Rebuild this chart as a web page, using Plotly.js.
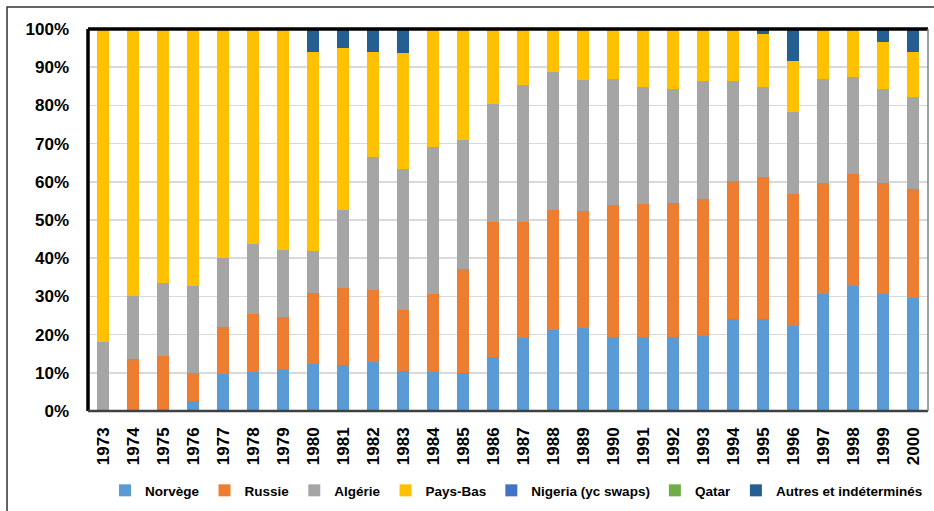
<!DOCTYPE html>
<html>
<head>
<meta charset="utf-8">
<script src="https://cdn.plot.ly/plotly-3.0.1.min.js"></script>
<style>html,body{margin:0;padding:0;background:#fff;}#chart{width:934px;height:511px;}</style>
</head>
<body>
<div id="chart"></div>
<script>
const years = ["1973","1974","1975","1976","1977","1978","1979","1980","1981","1982","1983","1984","1985","1986","1987","1988","1989","1990","1991","1992","1993","1994","1995","1996","1997","1998","1999","2000"];
const norvege = [0,0,0.5,2.6,9.6,10.2,10.9,12.4,12.1,12.7,10.5,10.2,10,14.2,19.1,21.2,21.6,19.4,19.4,19.4,19.7,24,24,22.3,30.7,32.7,30.5,29.6];
const russie = [0,13.7,13.8,7.4,12.3,15.1,13.8,18.4,20,19,16,20.5,27.2,35.3,30.4,31.4,30.7,34.4,34.7,35,35.9,36.2,37.2,34.6,29,29.4,29.2,28.5];
const algerie = [18,16.5,19.3,22.7,18.1,18.4,17.5,11.1,20.5,34.7,36.8,38.4,33.8,30.9,35.9,36.2,34.3,33.1,30.7,29.8,30.7,26.1,23.6,21.5,27.2,25.4,24.7,24.2];
const paysBas = [82,69.8,66.4,67.3,60,56.3,57.8,52.1,42.3,27.6,30.4,30.6,28.7,19.4,14.3,11.2,13.1,13.1,15.2,15.8,13.7,13.7,13.8,13.1,13.1,12.5,12.3,11.7];
const nigeria = [0,0,0,0,0,0,0,0,0,0,0,0,0,0,0,0,0,0,0,0,0,0,0,0,0,0,0,0];
const qatar = [0,0,0,0,0,0,0,0,0,0,0,0,0,0,0,0,0,0,0,0,0,0,0,0,0,0,0,0];
const autres = [0,0,0,0,0,0,0,6,5.1,6,6.3,0.3,0.3,0.2,0.3,0,0.3,0,0,0,0,0,1.4,8.5,0,0,3.3,6];
const yTicks = [0,10,20,30,40,50,60,70,80,90,100];

const names = ["Norvège","Russie","Algérie","Pays-Bas","Nigeria (yc swaps)","Qatar","Autres et indéterminés"];
const series = [norvege, russie, algerie, paysBas, nigeria, qatar, autres];
const colors = ["#5B9BD5","#ED7D31","#A5A5A5","#FFC000","#4472C4","#70AD47","#255E91"];

const traces = series.map((vals, i) => ({
  type: "bar",
  name: names[i],
  x: years,
  y: vals,
  marker: {color: colors[i], line: {width: 0}},
  hoverinfo: "x+y+name"
}));

const FONT = "Liberation Sans, Arial, sans-serif";

const layout = {
  width: 934,
  height: 511,
  barmode: "stack",
  bargap: 0.58,
  paper_bgcolor: "#ffffff",
  plot_bgcolor: "#ffffff",
  margin: {l: 88, r: 6, t: 29, b: 100, autoexpand: false},
  showlegend: true,
  legend: {
    orientation: "h",
    xref: "container",
    yref: "container",
    x: 0.553, xanchor: "center",
    y: 0.04, yanchor: "middle",
    font: {family: FONT, size: 13.5, color: "#000", weight: "bold"},
    itemwidth: 30,
    traceorder: "normal",
    tracegroupgap: 0
  },
  xaxis: {
    type: "category",
    tickangle: -90,
    tickfont: {family: FONT, size: 17, color: "#000", weight: "bold"},
    showgrid: false,
    showline: false,
    ticks: "",
    ticklabelstandoff: 12,
    fixedrange: true
  },
  yaxis: {
    range: [0, 100],
    tickvals: yTicks,
    ticktext: yTicks.map(v => v + "%"),
    tickfont: {family: FONT, size: 17, color: "#000", weight: "bold"},
    showgrid: true,
    gridcolor: "#d9d9d9",
    gridwidth: 1.5,
    zeroline: false,
    showline: false,
    ticks: "",
    ticklabelstandoff: 18,
    fixedrange: true
  },
  shapes: [
    {type: "rect", xref: "paper", yref: "paper", x0: -0.0964, x1: 1.0095, y0: -0.28, y1: 1.0576,
     line: {color: "#333", width: 1.5}, fillcolor: "rgba(0,0,0,0)", layer: "below"},
    {type: "line", xref: "paper", yref: "paper", x0: 0, x1: 1, y0: 1, y1: 1, line: {color: "#000", width: 3.5}},
    {type: "line", xref: "paper", yref: "paper", x0: 0, x1: 0, y0: 0, y1: 1, line: {color: "#000", width: 3.5}},
    {type: "line", xref: "paper", yref: "paper", x0: 0, x1: 1, y0: 0, y1: 0, line: {color: "#404040", width: 2.5}},
    {type: "line", xref: "paper", yref: "paper", x0: 1, x1: 1, y0: 0, y1: 1, line: {color: "#808080", width: 1.5}}
  ]
};

Plotly.newPlot("chart", traces, layout, {displayModeBar: false, staticPlot: true});
</script>
</body>
</html>
